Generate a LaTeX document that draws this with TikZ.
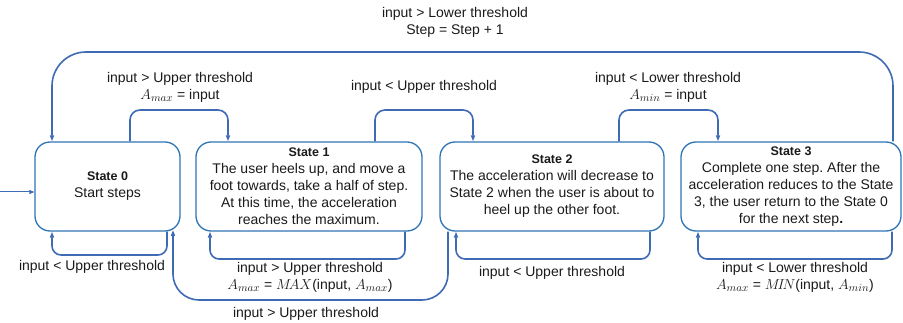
\documentclass[tikz,border=0pt]{standalone}
\usepackage{fontspec}
\setmainfont{Liberation Sans}
\usetikzlibrary{arrows.meta}
\frenchspacing
\definecolor{boxblue}{HTML}{2E75B6}
\definecolor{linkblue}{HTML}{3F6AB4}
\definecolor{txt}{HTML}{1A1A1A}
% math set a little larger to sit with the sans text
\newcommand\mv[1]{{\fontsize{15.5}{17}\selectfont$#1$}}
\begin{document}
\begin{tikzpicture}[x=1pt,y=-1pt,
  statebox/.style={draw=boxblue, line width=1.3pt, rounded corners=15pt,
    minimum height=89pt, inner sep=0pt, align=center, text=txt,
    font=\fontsize{14}{17}\selectfont},
  conn/.style={draw=linkblue, line width=1.6pt,
    -{Triangle[length=6pt,width=4pt]}},
  lbl/.style={align=center, text=txt, inner sep=0pt,
    font=\fontsize{14}{17}\selectfont}
]
\useasboundingbox (0,0) rectangle (903,323);

% states
\node[statebox, minimum width=145pt] (s0) at (107.5,186.5)
  {{\fontsize{12.5}{17}\selectfont\bfseries State 0}\\Start steps};
\node[statebox, minimum width=226pt] (s1) at (309,186.5)
  {{\fontsize{12.5}{17}\selectfont\bfseries State 1}\\The user heels up, and move a\\foot towards, take a half of step.\\At this time, the acceleration\\reaches the maximum.};
\node[statebox, minimum width=224pt] (s2) at (552,186.5)
  {{\fontsize{12.5}{17}\selectfont\bfseries State 2}\\The acceleration will decrease to\\State 2 when the user is about to\\heel up the other foot.};
\node[statebox, minimum width=220pt] (s3) at (791,186.5)
  {{\fontsize{12.5}{17}\selectfont\bfseries State 3}\\Complete one step. After the\\acceleration reduces to the State\\3, the user return to the State 0\\for the next step\textbf{.}};

% entry
\coordinate (start) at (0,192);
\draw[draw=linkblue, line width=1pt, -{Triangle[length=5pt,width=4pt]}]
  (start) -- (start -| s0.west);

% transitions above the states
\draw[conn, rounded corners=10pt]
  (130,0 |- s0.north) -- (130,110) -- (228,110) -- (228,0 |- s1.north);
\draw[conn, rounded corners=10pt]
  (375,0 |- s1.north) -- (375,110) -- (473,110) -- (473,0 |- s2.north);
\draw[conn, rounded corners=10pt]
  (619,0 |- s2.north) -- (619,110) -- (718,110) -- (718,0 |- s3.north);
\draw[conn, rounded corners=34pt]
  (893,0 |- s3.north) -- (893,52) -- (52,52) -- (52,0 |- s0.north);

% transitions below the states
\draw[conn, rounded corners=9pt]
  (167,0 |- s0.south) -- (167,255) -- (52,255) -- (52,0 |- s0.south);
\draw[conn, rounded corners=9pt]
  (405,0 |- s1.south) -- (405,259) -- (210,259) -- (210,0 |- s1.south);
\draw[conn, rounded corners=9pt]
  (650,0 |- s2.south) -- (650,259) -- (456,259) -- (456,0 |- s2.south);
\draw[conn, rounded corners=9pt]
  (892,0 |- s3.south) -- (892,259) -- (698,259) -- (698,0 |- s3.south);
\draw[conn, rounded corners=26pt]
  (448,0 |- s2.south) -- (448,300) -- (173,300) -- (173,230);

% labels
\node[lbl] (l01) at (180,87) {input > Upper threshold\\\mv{A_{max}} = input};
\node[lbl] (l12) at (424,87) {input < Upper threshold};
\node[lbl] (l23) at (668,87) {input < Lower threshold\\\mv{A_{min}} = input};
\node[lbl] (l30) at (455,22) {input > Lower threshold\\Step = Step + 1};
\node[lbl] (l00) at (92,267) {input < Upper threshold};
\node[lbl] (l11) at (310,277) {input > Upper threshold\\\mv{A_{max}} = \mv{M\!AX}(input, \mv{A_{max}})};
\node[lbl] (l20) at (306,314) {input > Upper threshold};
\node[lbl] (l22) at (552,273) {input < Upper threshold};
\node[lbl] (l33) at (795,277) {input < Lower threshold\\\mv{A_{max}} = \mv{M\!I\!N}(input, \mv{A_{min}})};
\end{tikzpicture}
\end{document}
